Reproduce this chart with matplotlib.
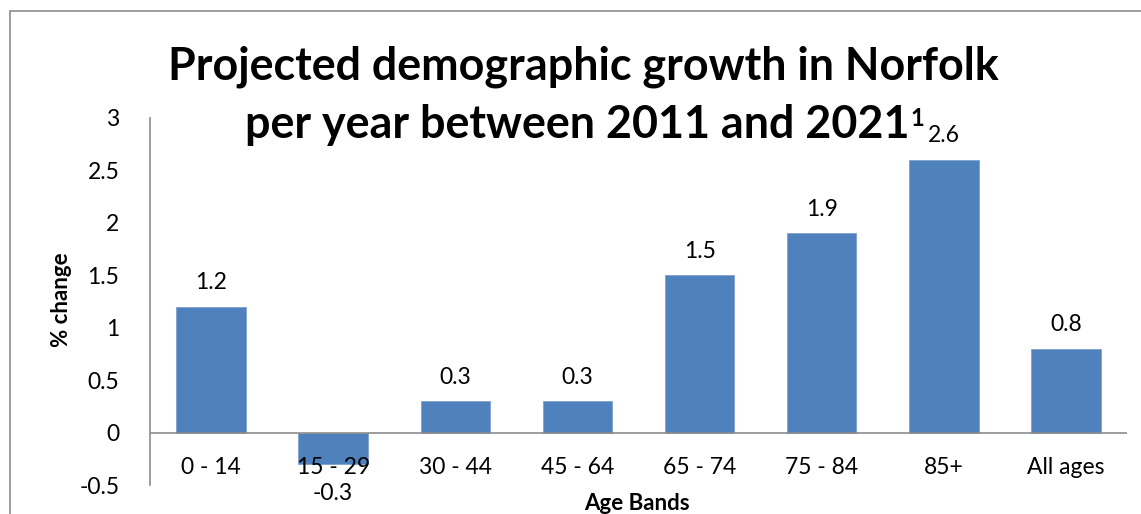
import matplotlib
matplotlib.use("Agg")
import matplotlib.pyplot as plt
from matplotlib.patches import Rectangle

categories = ["0 - 14", "15 - 29", "30 - 44", "45 - 64", "65 - 74", "75 - 84", "85+", "All ages"]
values = [1.2, -0.3, 0.3, 0.3, 1.5, 1.9, 2.6, 0.8]
yticks = [-0.5, 0, 0.5, 1, 1.5, 2, 2.5, 3]
ytick_labels = ["-0.5", "0", "0.5", "1", "1.5", "2", "2.5", "3"]

plt.rcParams['font.family'] = ['Lato', 'DejaVu Sans']

W, H = 1141, 514
fig = plt.figure(figsize=(W / 100, H / 100), dpi=100)

# chart border
fig.patches.append(Rectangle((10 / W, -0.1), 1.2, 1 - 11 / H + 0.1, transform=fig.transFigure,
                             fill=False, edgecolor="#8c8c8c", linewidth=1.2))

ax = fig.add_axes([150 / W, 29 / H, (1127 - 150) / W, (485 - 118) / H])
x = list(range(len(categories)))
ax.bar(x, values, width=0.57, color="#4F81BD", edgecolor="#7fa0cc", linewidth=0.6, zorder=2)
ax.set_xlim(-0.5, len(categories) - 0.5)
ax.set_ylim(-0.5, 3)
ax.set_yticks(yticks)
ax.set_yticklabels(ytick_labels, fontsize=16.5)
ax.tick_params(axis='y', length=0, pad=22)
ax.set_xticks([])
for s in ["top", "right", "bottom"]:
    ax.spines[s].set_visible(False)
ax.spines["left"].set_color("#8c8c8c")
ax.spines["left"].set_linewidth(1.2)
ax.axhline(0, color="#8c8c8c", linewidth=1.2, zorder=3)

for xi, cat in zip(x, categories):
    ax.annotate(cat, (xi, 0), xytext=(0, -35), textcoords="offset pixels",
                ha="center", va="center", fontsize=16.5)

for xi, v in zip(x, values):
    off = 24 if v >= 0 else -29
    ax.annotate(f"{v:g}", (xi, v), xytext=(0, off), textcoords="offset pixels",
                ha="center", va="center", fontsize=16.5)

fig.text(62 / W, 1 - 300 / H, "% change", rotation=90, ha="center", va="center",
         fontsize=16, fontweight="bold")
fig.text(637 / W, 1 - 503 / H, "Age Bands", ha="center", va="center",
         fontsize=16, fontweight="bold")

fig.text(583 / W, 1 - 67 / H, "Projected demographic growth in Norfolk", ha="center", va="center",
         fontsize=32.3, fontweight="bold")
t2 = fig.text(577 / W, 1 - 125 / H, "per year between 2011 and 2021", ha="center", va="center",
              fontsize=32.3, fontweight="bold")
fig.canvas.draw()
bb = t2.get_window_extent()
fig.text((bb.x1 + 1) / W, (bb.y1 - 3) / H, "1", ha="left", va="top", fontsize=17, fontweight="bold",
         transform=fig.transFigure)

fig.savefig("out.png", dpi=100)
